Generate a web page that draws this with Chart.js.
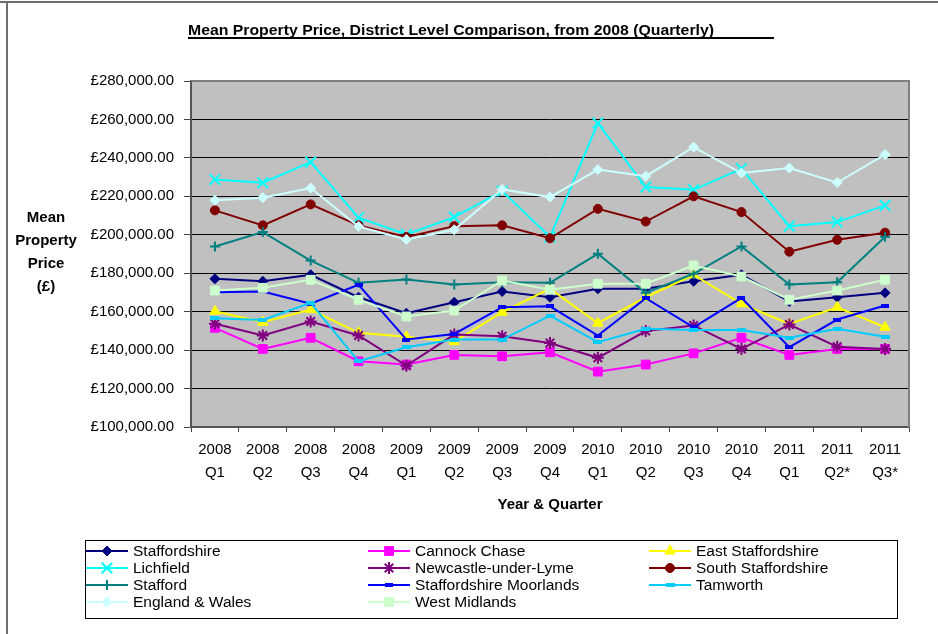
<!DOCTYPE html>
<html>
<head>
<meta charset="utf-8">
<script src="https://cdn.jsdelivr.net/npm/chart.js@4/dist/chart.umd.min.js"></script>
<style>
  html, body { margin: 0; padding: 0; background: #fff; }
  canvas { display: block; }
</style>
</head>
<body>
<canvas id="chart" width="938" height="634"></canvas>
<script>
// Quarterly categories
const years    = ['2008','2008','2008','2008','2009','2009','2009','2009','2010','2010','2010','2010','2011','2011','2011'];
const quarters = ['Q1','Q2','Q3','Q4','Q1','Q2','Q3','Q4','Q1','Q2','Q3','Q4','Q1','Q2*','Q3*'];

// Mean property price by area (£)
const staffordshire        = [177100, 175800, 179200, 167500, 159200, 164900, 170500, 167500, 171900, 171900, 175800, 179200, 165300, 167500, 169800];
const cannockChase         = [151600, 140600, 146400, 134200, 132500, 137500, 136800, 138900, 128800, 132500, 138300, 146400, 137500, 140600, 140600];
const eastStaffordshire    = [160200, 154500, 161100, 149000, 147000, 144400, 159700, 172000, 154000, 167500, 179200, 164100, 153600, 162300, 151900];
const lichfield            = [228800, 227100, 237800, 208900, 200200, 209200, 222700, 198800, 258100, 224800, 223400, 234400, 204500, 206600, 215300];
const newcastleUnderLyme   = [153700, 147600, 154900, 147600, 131900, 148100, 147200, 143700, 136000, 149900, 152800, 140600, 153300, 141800, 140600];
const southStaffordshire   = [212700, 204900, 215800, 204900, 198800, 204500, 204900, 198200, 213500, 206900, 220000, 211800, 191200, 197400, 201100];
const stafford             = [193900, 201400, 186600, 175000, 176700, 174100, 175300, 175000, 190100, 169800, 179700, 193900, 174100, 175300, 199000];
const staffordshireMoorlands = [170100, 170500, 164100, 174000, 145500, 148400, 162300, 162800, 147600, 167000, 151900, 167200, 141500, 155900, 163200];
const tamworth             = [156600, 155700, 164600, 134200, 141500, 145500, 145500, 158000, 144100, 151100, 150500, 150500, 146400, 151100, 147000];
const englandWales         = [217900, 219300, 224300, 204300, 197600, 202600, 223600, 219600, 233900, 230500, 245600, 232100, 234700, 227200, 241700];
const westMidlands         = [171000, 172400, 176600, 166200, 157500, 160600, 176200, 171400, 174500, 174500, 184000, 178300, 166200, 171000, 176600];

// Price axis
const yMin = 100000, yMax = 280000, yStep = 20000;

const FONT = '"Liberation Sans", Arial, sans-serif';

// Small filled bar used as a "dash" marker
function dashMarker(color, w, h) {
  const c = document.createElement('canvas');
  c.width = w; c.height = h;
  const g = c.getContext('2d');
  g.fillStyle = color;
  g.fillRect(0, 0, w, h);
  return c;
}

function money(v) {
  const parts = Number(v).toFixed(2).split('.');
  parts[0] = parts[0].replace(/\B(?=(\d{3})+(?!\d))/g, ',');
  return '£' + parts.join('.');
}

function series(label, data, color, style, radius, borderWidth) {
  return {
    label, data,
    borderColor: color,
    backgroundColor: color,
    borderWidth: 2,
    pointStyle: style,
    pointRadius: radius,
    pointHoverRadius: radius,
    pointBackgroundColor: color,
    pointBorderColor: color,
    pointBorderWidth: borderWidth,
    tension: 0,
    fill: false
  };
}

const datasets = [
  series('Staffordshire',           staffordshire,          '#000080', 'rectRot', 5, 1),
  series('Cannock Chase',           cannockChase,           '#FF00FF', 'rect', 6.2, 1),
  series('East Staffordshire',      eastStaffordshire,      '#FFFF00', 'triangle', 6, 1),
  series('Lichfield',               lichfield,              '#00FFFF', 'crossRot', 7.5, 2),
  series('Newcastle-under-Lyme',    newcastleUnderLyme,     '#800080', 'star', 6, 2),
  series('South Staffordshire',     southStaffordshire,     '#800000', 'circle', 4.5, 1),
  series('Stafford',                stafford,               '#008080', 'cross', 5, 2),
  series('Staffordshire Moorlands', staffordshireMoorlands, '#0000FF', dashMarker('#0000FF', 8, 4), 4, 1),
  series('Tamworth',                tamworth,               '#00CCFF', dashMarker('#00CCFF', 9, 4), 4, 1),
  series('England & Wales',         englandWales,           '#CCFFFF', 'rectRot', 5, 1),
  series('West Midlands',           westMidlands,           '#CCFFCC', 'rect', 6.2, 1)
];
// later series sit on top of earlier ones
datasets.forEach((d, i) => { d.order = datasets.length - i; });

const decorations = {
  id: 'decorations',
  beforeDraw(chart) {
    const { ctx, chartArea: a } = chart;
    ctx.save();
    ctx.fillStyle = '#C0C0C0';
    ctx.fillRect(a.left, a.top, a.right - a.left, a.bottom - a.top);
    ctx.restore();
  },
  afterDraw(chart) {
    const { ctx, chartArea: a } = chart;
    ctx.save();

    // plot frame
    ctx.strokeStyle = '#808080';
    ctx.lineWidth = 2;
    ctx.beginPath();
    ctx.moveTo(a.left, a.top);
    ctx.lineTo(a.right, a.top);
    ctx.lineTo(a.right, a.bottom);
    ctx.stroke();

    // outer page frame
    ctx.strokeStyle = '#6e6e6e';
    ctx.lineWidth = 2;
    ctx.beginPath();
    ctx.moveTo(0, 2);
    ctx.lineTo(938, 2);
    ctx.moveTo(7, 2);
    ctx.lineTo(7, 634);
    ctx.stroke();

    // title, underlined (narrow bold face)
    ctx.fillStyle = '#000';
    ctx.font = 'bold 14px ' + FONT;
    ctx.textBaseline = 'alphabetic';
    ctx.textAlign = 'left';
    const title = 'Mean Property Price, District Level Comparison, from 2008 (Quarterly)';
    const tw = ctx.measureText(title).width;
    const sx = 526 / tw;
    ctx.save();
    ctx.translate(188, 35);
    ctx.scale(sx, 1);
    ctx.fillText(title, 0, 0);
    ctx.restore();
    ctx.fillRect(188, 37, 586, 2);

    // value axis title
    ctx.font = 'bold 15px ' + FONT;
    ctx.textAlign = 'center';
    ctx.textBaseline = 'middle';
    ['Mean', 'Property', 'Price', '(£)'].forEach((t, i) => ctx.fillText(t, 46, 218 + i * 23));

    // category axis title
    ctx.fillText('Year & Quarter', (a.left + a.right) / 2, 505);

    // legend
    const H = Chart.helpers;
    ctx.strokeStyle = '#000';
    ctx.lineWidth = 1;
    ctx.strokeRect(85.5, 540.5, 812, 78);
    const cols = [86, 368, 649];
    const rows = [551, 568, 585, 602];
    ctx.font = '15.5px ' + FONT;
    ctx.textAlign = 'left';
    chart.data.datasets.forEach((d, i) => {
      const x = cols[i % 3];
      const y = rows[Math.floor(i / 3)];
      ctx.strokeStyle = d.borderColor;
      ctx.lineWidth = 2;
      ctx.beginPath();
      ctx.moveTo(x, y);
      ctx.lineTo(x + 42, y);
      ctx.stroke();
      ctx.fillStyle = d.pointBackgroundColor;
      ctx.strokeStyle = d.pointBorderColor;
      ctx.lineWidth = d.pointBorderWidth;
      H.drawPoint(ctx, {
        pointStyle: d.pointStyle,
        radius: d.pointRadius,
        rotation: 0,
        borderWidth: d.pointBorderWidth
      }, x + 21, y);
      ctx.fillStyle = '#000';
      ctx.fillText(d.label, x + 47, y + 1);
    });

    ctx.restore();
  }
};

new Chart(document.getElementById('chart'), {
  type: 'line',
  data: {
    labels: years.map((y, i) => [y, quarters[i]]),
    datasets
  },
  options: {
    responsive: false,
    animation: false,
    devicePixelRatio: 1,
    layout: { padding: { top: 81, right: 29, bottom: 0, left: 0 } },
    plugins: {
      legend: { display: false },
      title: { display: false },
      tooltip: { enabled: false }
    },
    scales: {
      x: {
        type: 'category',
        offset: true,
        grid: {
          offset: true,
          drawOnChartArea: false,
          drawTicks: true,
          tickLength: 5,
          tickColor: '#444',
          tickWidth: 1
        },
        border: { display: true, color: '#555', width: 2 },
        ticks: {
          color: '#000',
          font: { family: FONT, size: 15, lineHeight: 1.5 },
          padding: 7,
          maxRotation: 0,
          autoSkip: false
        },
        afterFit(s) { s.height = 207; }
      },
      y: {
        min: yMin,
        max: yMax,
        grid: {
          color: '#000',
          lineWidth: 1,
          drawTicks: true,
          tickLength: 7,
          tickColor: '#444'
        },
        border: { display: true, color: '#555', width: 2 },
        ticks: {
          stepSize: yStep,
          color: '#000',
          font: { family: FONT, size: 15 },
          padding: 10,
          callback: v => money(v)
        },
        afterFit(s) { s.width = 191; }
      }
    }
  },
  plugins: [decorations]
});
</script>
</body>
</html>
